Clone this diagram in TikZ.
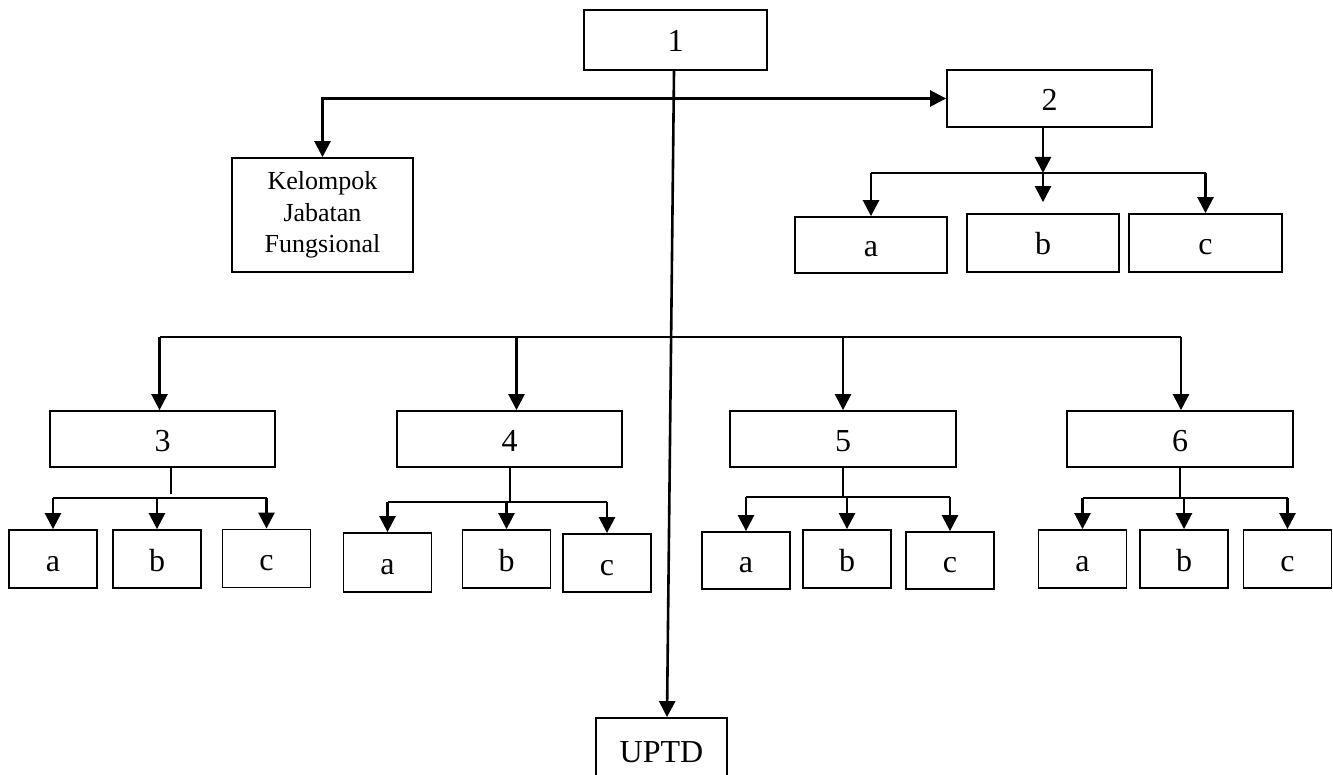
\documentclass[tikz,border=0pt]{standalone}
\usepackage{fontspec}
\setmainfont{Liberation Serif}
\usetikzlibrary{positioning,calc,arrows.meta}

\tikzset{
	kotak/.style={draw, line width=1.8pt, inner sep=0, minimum width=88pt, minimum height=58pt, text height=24pt, text depth=0pt, font=\fontsize{32}{35}\selectfont},
	panah/.style={line width=2.6pt, -{Triangle[width=16pt,length=16pt]}},
	panahdua/.style={line width=2.6pt, {Triangle[width=16pt,length=16pt]}-{Triangle[width=16pt,length=16pt]}},
	garis/.style={line width=2pt},
}

\begin{document}
\begin{tikzpicture}[x=1pt, y=-1pt]
	\useasboundingbox (0,0) rectangle (1333,775);

	% kepala
	\node[kotak, minimum width=183pt, minimum height=60pt] (k1) at (675.5,40) {1};
	\node[kotak, minimum width=205pt, minimum height=57pt] (k2) at (1049.5,98.5) {2};
	\node[kotak, minimum width=181pt, minimum height=114pt, text height=, text depth=, align=center, font=\fontsize{26}{31.7}\selectfont] (kjf) at (322.5,215) {Kelompok\\Jabatan\\Fungsional};
	\node[kotak, minimum width=131pt, minimum height=64pt] (uptd) at (661.5,750) {UPTD};

	% bawahan 2
	\node[kotak, minimum width=152pt, minimum height=56pt] (k2a) at (871,245) {a};
	\node[kotak, minimum width=152pt] (k2b) at (1043,243) {b};
	\node[kotak, minimum width=153pt] (k2c) at (1205.5,243) {c};

	% bidang
	\node[kotak, minimum width=225pt, minimum height=56pt] (k3) at (162.5,439) {3};
	\node[kotak, minimum width=225pt, minimum height=56pt] (k4) at (509.5,439) {4};
	\node[kotak, minimum width=226pt, minimum height=56pt] (k5) at (843,439) {5};
	\node[kotak, minimum width=226pt, minimum height=56pt] (k6) at (1180,439) {6};

	% seksi
	\node[kotak] (k3a) at (53,559) {a};
	\node[kotak] (k3b) at (157,559) {b};
	\node[kotak] (k3c) at (266.5,558.5) {c};
	\node[kotak, minimum height=59pt] (k4a) at (387.5,562.5) {a};
	\node[kotak] (k4b) at (506.5,559) {b};
	\node[kotak] (k4c) at (607,563) {c};
	\node[kotak, minimum height=57pt] (k5a) at (746,560.5) {a};
	\node[kotak] (k5b) at (847,559) {b};
	\node[kotak, minimum height=57pt] (k5c) at (950,560.5) {c};
	\node[kotak] (k6a) at (1082.5,559) {a};
	\node[kotak] (k6b) at (1184,559) {b};
	\node[kotak] (k6c) at (1287.5,559) {c};

	% garis utama
	\draw[panah] ([xshift=-1.5pt]k1.south) -- ([xshift=5.5pt]uptd.north);
	\draw[panahdua] (kjf.north) |- (k2.west);

	% cabang 2
	\coordinate (j2) at (1043,173);
	\draw[panah] (k2.south -| j2) -- (j2);
	\draw[garis] (j2 -| k2a.north) -- (j2 -| k2c.north);
	\draw[panah] (j2 -| k2a.north) -- (k2a.north);
	\draw[panah] (j2) -- ([yshift=11pt]k2b.north);
	\draw[panah] (j2 -| k2c.north) -- (k2c.north);

	% cabang bidang
	\coordinate (jb) at (0,337);
	\draw[garis] ([xshift=-3pt]k3.north |- jb) -- ([xshift=1pt]k6.north |- jb);
	\foreach \k/\dx in {3/-3,4/7,5/0,6/1}
		\draw[panah] ([xshift=\dx pt]k\k.north |- jb) -- ([xshift=\dx pt]k\k.north);

	% cabang seksi
	\draw[garis] ([xshift=8.5pt]k3.south) -- ++(0,26);
	\foreach \k/\y in {4/502,5/497,6/498}
		\draw[garis] (k\k.south) -- (k\k.south |- 0,\y);
	\foreach \k/\y in {3/498,4/502,5/497,6/498}{
		\draw[garis] (k\k a.north |- 0,\y) -- (k\k c.north |- 0,\y);
		\foreach \s in {a,b,c}
			\draw[panah] (k\k\s.north |- 0,\y) -- (k\k\s.north);
	}
\end{tikzpicture}
\end{document}
